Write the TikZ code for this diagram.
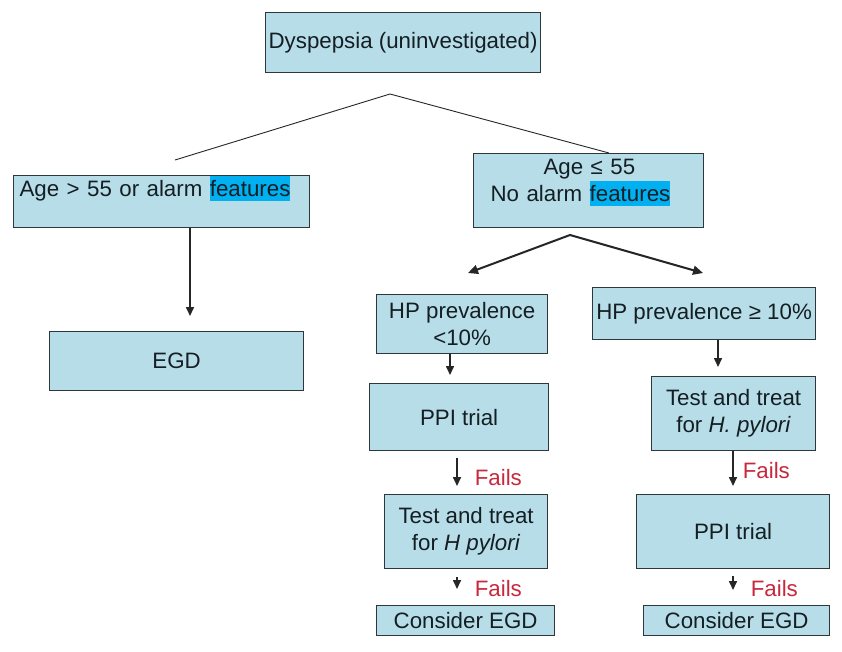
\documentclass[tikz,border=0pt]{standalone}
\usepackage{fontspec}
\setmainfont{Liberation Sans}
\usetikzlibrary{arrows.meta}

\definecolor{boxfill}{RGB}{183,222,232}
\definecolor{boxedge}{RGB}{45,55,60}
\definecolor{hlcyan}{RGB}{0,176,240}
\definecolor{failred}{RGB}{200,40,60}
\definecolor{inktext}{RGB}{20,30,35}

\newcommand{\hlword}[1]{{\setlength{\fboxsep}{0pt}\colorbox{hlcyan}{\rule[-4pt]{0pt}{25pt}#1}}}

\tikzset{
  flowbox/.style={draw=boxedge, fill=boxfill, line width=1.2pt, inner sep=0pt, anchor=north west, align=center, text=inktext},
  arr/.style={line width=1.6pt, draw=black!85, -{Triangle[length=9pt,width=8pt]}},
  fails/.style={text=failred, inner sep=0pt},
}

\begin{document}
\begin{tikzpicture}[x=1pt, y=-1pt, font=\fontsize{22.3}{27}\selectfont]
    \useasboundingbox[fill=white] (0,0) rectangle (842,651);

    % boxes
    \node[flowbox, minimum width=275pt, minimum height=60pt] (dysp) at (265,12) {Dyspepsia (uninvestigated)};
    \node[flowbox, align=left, text width=284pt, inner xsep=6pt, text height=21pt, text depth=31pt] (ageHi) at (13,175) {Age > 55 or alarm \hlword{features}};
    \node[flowbox, minimum width=254pt, minimum height=59pt] (egd) at (49,331) {EGD};
    \node[flowbox, align=left, text width=196pt, inner xsep=17pt, text height=21pt, text depth=53pt] (ageLo) at (473,153) {\hspace*{53pt}Age ≤ 55\\No alarm \hlword{features}};

    \node[flowbox, minimum width=171pt, minimum height=59pt] (hpLo) at (376,294) {HP prevalence\\<10\%};
    \node[flowbox, minimum width=179pt, minimum height=67pt] (ppiLo) at (369,383) {PPI trial};
    \node[flowbox, minimum width=163pt, minimum height=74pt] (testLo) at (384,494) {Test and treat\\for \textit{H pylori}};
    \node[flowbox, minimum width=178pt, minimum height=30pt] (egdLo) at (376,605) {Consider EGD};

    \node[flowbox, minimum width=223pt, minimum height=52pt] (hpHi) at (592,287) {HP prevalence ≥ 10\%};
    \node[flowbox, minimum width=164pt, minimum height=74pt] (testHi) at (651,376) {Test and treat\\for \textit{H. pylori}};
    \node[flowbox, minimum width=193pt, minimum height=74pt] (ppiHi) at (636,494) {PPI trial};
    \node[flowbox, minimum width=186pt, minimum height=30pt] (egdHi) at (643,605) {Consider EGD};

    % forks
    \coordinate (forkTop) at (390,94);
    \coordinate (forkTopL) at (175,160);
    \draw[line width=0.9pt, draw=black!85] (forkTopL) -- (forkTop) -- (609,0 |- ageLo.north);

    \coordinate (forkLo) at (570,235);
    \coordinate (forkLoL) at (468,273);
    \coordinate (forkLoR) at (703,273);
    \draw[line width=2pt, draw=black!85, {Triangle[length=10pt,width=9pt]}-{Triangle[length=10pt,width=9pt]}] (forkLoL) -- (forkLo) -- (forkLoR);

    % plain arrows
    \foreach \from/\to/\x/\pre/\post in {ageHi/egd/190/0pt/15pt, hpLo/ppiLo/450/0pt/8pt, hpHi/testHi/718/0pt/9pt}
    \draw[arr, shorten <=\pre, shorten >=\post] (\x,0 |- \from.south) -- (\x,0 |- \to.north);

    % arrows after a failed step
    \foreach \from/\to/\x/\pre/\post/\at/\gap in {ppiLo/testLo/457/7pt/8pt/0.61/17pt, testLo/egdLo/457/8pt/16pt/0.55/17pt, testHi/ppiHi/733/0pt/8pt/0.44/9pt, ppiHi/egdHi/733/7pt/15pt/0.53/17pt}
    \draw[arr, shorten <=\pre, shorten >=\post] (\x,0 |- \from.south) -- (\x,0 |- \to.north) node[fails, pos=\at, right=\gap] {Fails};
\end{tikzpicture}
\end{document}
